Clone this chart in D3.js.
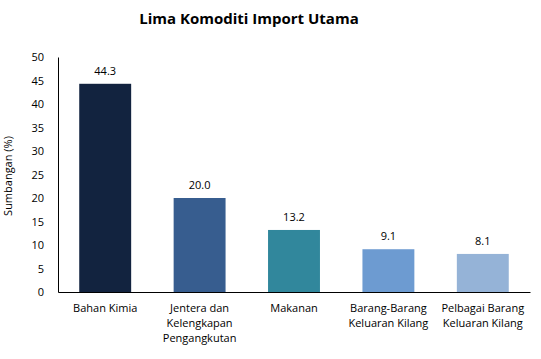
<!DOCTYPE html>
<html><head><meta charset="utf-8">
<script src="https://cdn.jsdelivr.net/npm/d3@7"></script>
<style>body{margin:0;background:#fff}text{font-family:"Open Sans",sans-serif}</style>
</head><body><svg id="c" width="541" height="359"></svg>
<script>
const categories = [["Bahan Kimia"],["Jentera dan","Kelengkapan","Pengangkutan"],["Makanan"],["Barang-Barang","Keluaran Kilang"],["Pelbagai Barang","Keluaran Kilang"]];
const values = [44.3, 20.0, 13.2, 9.1, 8.1];
const colors = ["#12233f","#375d8f","#31879c","#6d9bd1","#95b3d7"];
const yTicks = [0,5,10,15,20,25,30,35,40,45,50];

const svg = d3.select("#c");
const x = d3.scaleBand().domain(d3.range(values.length)).range([58,530]).paddingInner(0.45).paddingOuter(0.225);
const y = d3.scaleLinear().domain([0,50]).range([292,57]);

svg.append("text").attr("x",249).attr("y",24).attr("text-anchor","middle")
  .attr("font-size",15).attr("font-weight","bold").attr("fill","#000").text("Lima Komoditi Import Utama");

const ya = svg.append("g").attr("transform","translate(58,0)").call(d3.axisLeft(y).tickValues(yTicks).tickSize(0).tickPadding(14));
ya.select(".domain").attr("stroke","#000");
ya.selectAll("text").attr("font-size",11).attr("font-family","Open Sans, sans-serif").attr("fill","#000");

svg.append("text").attr("transform","translate(12,176) rotate(-90)").attr("text-anchor","middle")
  .attr("font-size",11).attr("fill","#000").text("Sumbangan (%)");

svg.selectAll("rect.bar").data(values).join("rect").attr("class","bar")
  .attr("x",(d,i)=>x(i)).attr("width",x.bandwidth()).attr("y",d=>y(d)).attr("height",d=>y(0)-y(d))
  .attr("fill",(d,i)=>colors[i]);

svg.selectAll("text.val").data(values).join("text").attr("class","val")
  .attr("x",(d,i)=>x(i)+x.bandwidth()/2).attr("y",d=>y(d)-9).attr("text-anchor","middle")
  .attr("font-size",11).attr("fill","#000").text(d=>d.toFixed(1));

const xa = svg.append("g").attr("transform","translate(0,292)").call(d3.axisBottom(x).tickSize(0).tickFormat(""));
xa.select(".domain").attr("stroke","#000");

categories.forEach((lines,i)=>{
  const t = svg.append("text").attr("text-anchor","middle").attr("font-size",11).attr("fill","#000");
  lines.forEach((l,j)=>t.append("tspan").attr("x",x(i)+x.bandwidth()/2).attr("y",312+j*15).text(l));
});
</script></body></html>
